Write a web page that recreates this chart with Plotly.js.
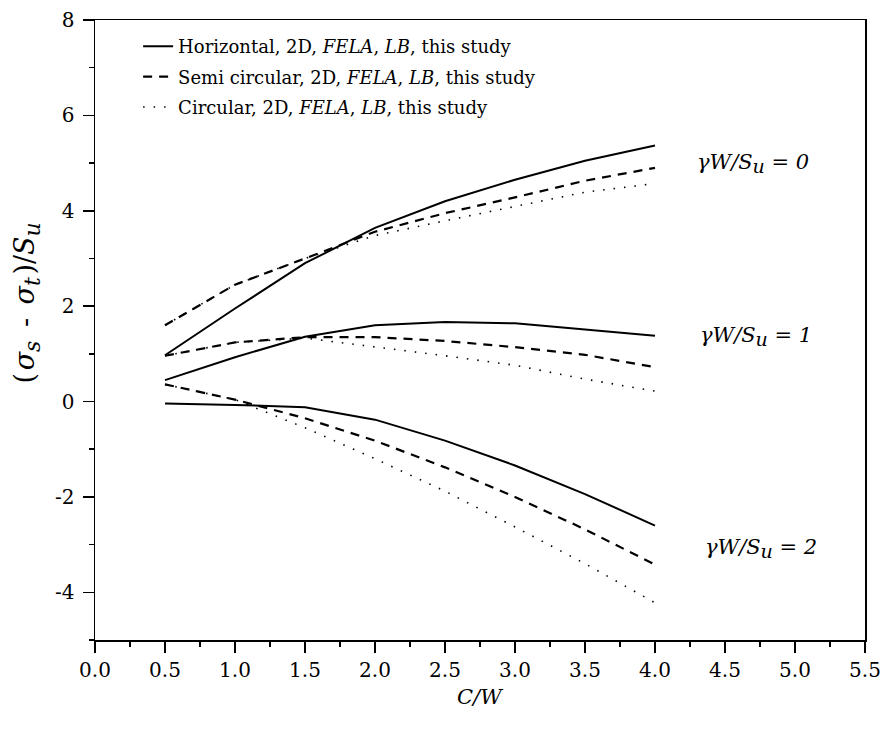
<!DOCTYPE html>
<html>
<head>
<meta charset="utf-8">
<script src="https://cdn.plot.ly/plotly-3.0.1.min.js"></script>
<style>html,body{margin:0;padding:0;background:#fff;}#chart{width:884px;height:743px;}</style>
</head>
<body>
<div id="chart"></div>
<script>
// C/W values
const cw = [0.5, 1.0, 1.5, 2.0, 2.5, 3.0, 3.5, 4.0];
// gamma W / Su = 0
const hor0  = [0.97, 1.95, 2.90, 3.64, 4.20, 4.65, 5.05, 5.37];
const semi0 = [1.60, 2.45, 3.00, 3.56, 3.95, 4.28, 4.63, 4.90];
const circ0 = [1.60, 2.45, 3.00, 3.48, 3.79, 4.09, 4.39, 4.57];
// gamma W / Su = 1
const hor1  = [0.45, 0.93, 1.36, 1.60, 1.67, 1.64, 1.51, 1.38];
const semi1 = [0.96, 1.24, 1.35, 1.35, 1.27, 1.14, 0.98, 0.72];
const circ1 = [0.96, 1.24, 1.33, 1.15, 0.96, 0.76, 0.47, 0.22];
// gamma W / Su = 2
const hor2  = [-0.04, -0.07, -0.12, -0.38, -0.82, -1.34, -1.94, -2.60];
const semi2 = [0.36, 0.04, -0.35, -0.82, -1.38, -2.00, -2.68, -3.42];
const circ2 = [0.36, 0.04, -0.55, -1.20, -1.88, -2.63, -3.40, -4.22];

// y tick labels (plain hyphen minus as in the reference)
const yTickVals = [-4, -2, 0, 2, 4, 6, 8];
const yTickText = ['-4', '-2', '0', '2', '4', '6', '8'];

const legendNames = [
  'Horizontal, 2D, <i>FELA</i>, <i>LB</i>, this study',
  'Semi circular, 2D, <i>FELA</i>, <i>LB</i>, this study',
  'Circular, 2D, <i>FELA</i>, <i>LB</i>, this study'
];
const gammaLabels = ['0', '1', '2'];
const gammaLabelX = [4.7, 4.72, 4.76];
const gammaLabelY = [5.0, 1.36, -3.08];

const styles = [
  {dash: 'solid', width: 2},
  {dash: '9px,7px', width: 2.2},
  {dash: '1.5px,9px', width: 1.6}
];
const groups = [[hor0, semi0, circ0], [hor1, semi1, circ1], [hor2, semi2, circ2]];

const traces = [];
groups.forEach((grp, gi) => {
  grp.forEach((ys, si) => {
    traces.push({
      x: cw, y: ys, type: 'scatter', mode: 'lines',
      name: legendNames[si],
      legendgroup: 's' + si,
      showlegend: gi === 0,
      line: {color: '#000', dash: styles[si].dash, width: styles[si].width},
      hoverinfo: 'skip'
    });
  });
});

const serif = 'DejaVu Serif, Liberation Serif, serif';
const sub = (t, px) => '<sub><span style="font-size:' + px + 'px">' + t + '</span></sub>';
const annotations = gammaLabels.map((g, i) => ({
  x: gammaLabelX[i], y: gammaLabelY[i], xref: 'x', yref: 'y',
  text: '<i>γW/S' + sub('u', 19) + ' = ' + g + '</i>',
  showarrow: false, font: {family: serif, size: 21, color: '#000'},
  xanchor: 'center', yanchor: 'middle'
}));
annotations.push({
  x: -0.088, y: 0.543, xref: 'paper', yref: 'paper', textangle: -90,
  text: '(\u200a<i>σ' + sub('s', 22) + '</i>\u2002-\u2002<i>σ' + sub('t', 22) + '</i>\u200a)/<i>S' + sub('u', 22) + '</i>',
  showarrow: false, font: {family: serif, size: 27, color: '#000'},
  xanchor: 'center', yanchor: 'middle'
});
annotations.push({
  x: 0.5, y: -0.092, xref: 'paper', yref: 'paper',
  text: '<i>C/W</i>', showarrow: false,
  font: {family: serif, size: 21, color: '#000'},
  xanchor: 'center', yanchor: 'middle'
});

const layout = {
  width: 884, height: 743,
  margin: {l: 95, r: 19, t: 19.5, b: 103},
  paper_bgcolor: '#fff', plot_bgcolor: '#fff',
  showlegend: true,
  legend: {
    x: 0.056, y: 0.987, xanchor: 'left', yanchor: 'top',
    bgcolor: 'rgba(0,0,0,0)', borderwidth: 0,
    font: {family: serif, size: 18, color: '#000'},
    tracegroupgap: 4
  },
  xaxis: {
    range: [0, 5.5], dtick: 0.5, tick0: 0, tickformat: '.1f',
    ticks: 'outside', ticklen: 11, tickwidth: 1.5, tickcolor: '#000',
    showline: true, linewidth: 1.5, linecolor: '#000', mirror: true,
    showgrid: false, zeroline: false,
    tickfont: {family: serif, size: 20, color: '#000'},
    minor: {ticks: 'outside', ticklen: 5, dtick: 0.25, tickwidth: 1.5, tickcolor: '#000', showgrid: false}
  },
  yaxis: {
    range: [-5, 8], tickmode: 'array', tickvals: yTickVals, ticktext: yTickText,
    ticks: 'outside', ticklen: 11, tickwidth: 1.5, tickcolor: '#000',
    showline: true, linewidth: 1.5, linecolor: '#000', mirror: true,
    showgrid: false, zeroline: false, ticklabelstandoff: 4,
    tickfont: {family: serif, size: 20, color: '#000'},
    minor: {ticks: 'outside', ticklen: 5, tickmode: 'linear', tick0: 0, dtick: 1, tickwidth: 1.5, tickcolor: '#000', showgrid: false}
  },
  annotations: annotations
};

Plotly.newPlot('chart', traces, layout, {displayModeBar: false, staticPlot: true});
</script>
</body>
</html>
